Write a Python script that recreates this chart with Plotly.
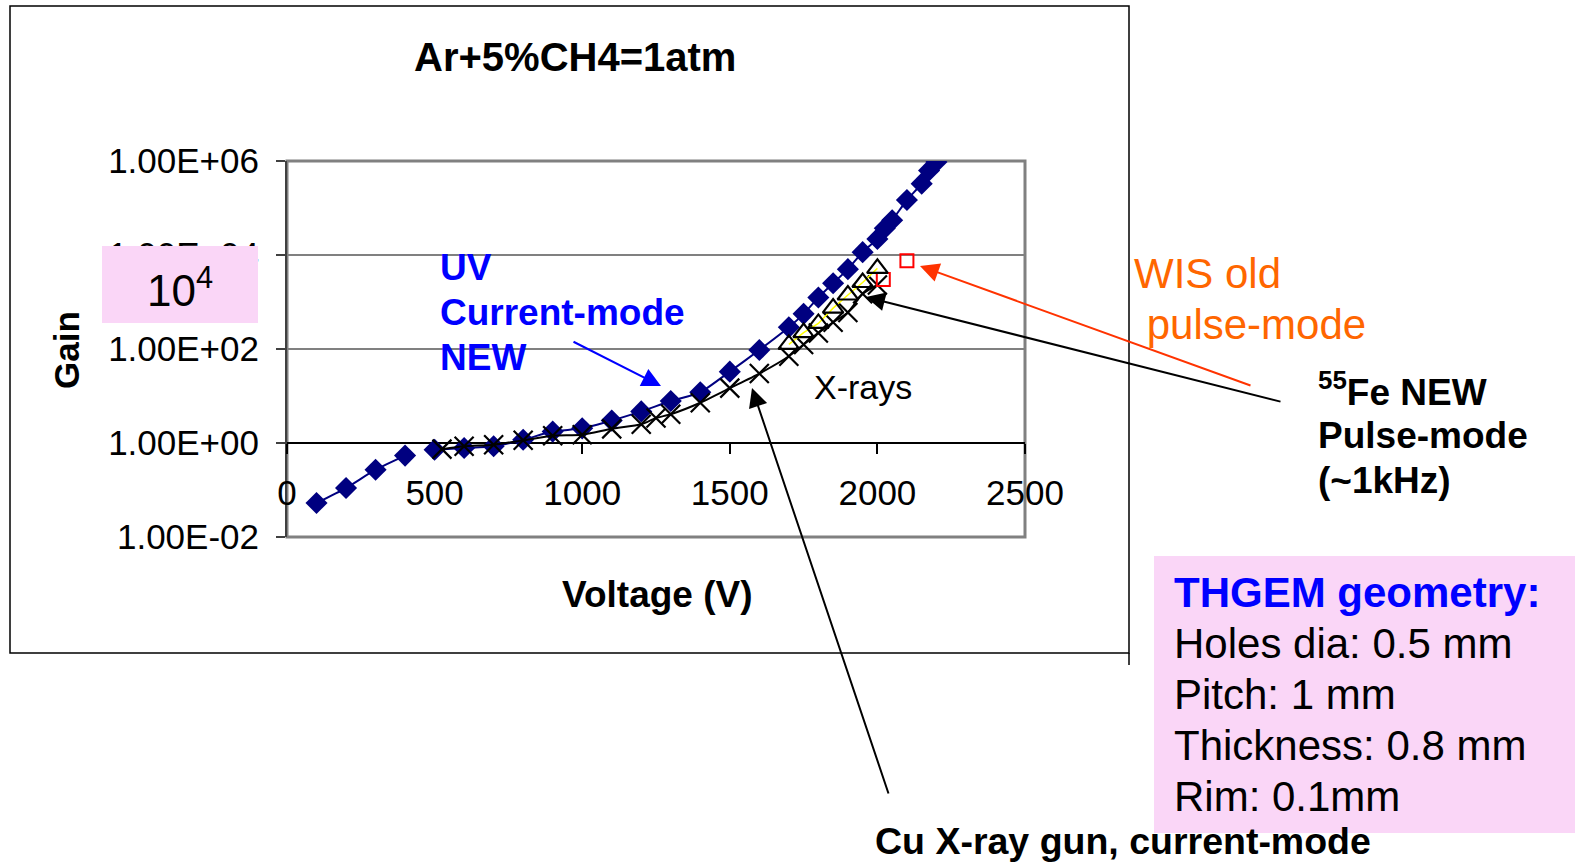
import plotly.graph_objects as go

# ---------------- data ----------------
uv_low_voltage = [100, 200, 300, 400]
uv_low_gain = [0.053, 0.11, 0.27, 0.54]

uv_voltage = [500, 600, 700, 800, 900, 1000, 1100, 1200, 1300, 1400, 1500, 1600,
              1700, 1750, 1800, 1850, 1900, 1950, 2000, 2025, 2050, 2100, 2150, 2175, 2200]
uv_gain = [0.72, 0.78, 0.85, 1.17, 1.75, 2.05, 3.0, 4.7, 7.8, 12, 33, 95,
           290, 560, 1250, 2500, 5000, 11500, 22000, 37000, 55000, 148000, 330000, 630000, 950000]

xray_voltage = [525, 600, 700, 800, 900, 1000, 1100, 1200, 1250, 1300, 1400, 1500,
                1600, 1700, 1750, 1800, 1850, 1900, 1950, 2000]
xray_gain = [0.74, 0.85, 0.92, 1.14, 1.43, 1.5, 2.0, 2.5, 3.4, 4.1, 7.2, 14.7,
             30, 70, 125, 220, 370, 600, 1500, 2300]

fe55_voltage = [1700, 1750, 1800, 1850, 1900, 1950, 2000]
fe55_gain = [125, 223, 350, 740, 1410, 2600, 5200]

wis_voltage = [2020, 2100]
wis_gain = [3000, 7500]

x_ticks = [0, 500, 1000, 1500, 2000, 2500]
y_ticks = [0.01, 1, 100, 1e4, 1e6]
y_ticktext = ["1.00E-02", "1.00E+00", "1.00E+02", "1.00E+04", "1.00E+06"]

# ---------------- layout geometry ----------------
W, H = 1575, 864
L, R, T, B = 287, 1025, 161, 537
PW, PH = R - L, B - T
FONT = "Arial, Liberation Sans, sans-serif"


def X(px):
    return (px - L) / PW


def Y(py):
    return (B - py) / PH


NAVY = "#000080"

fig = go.Figure()

fig.add_trace(go.Scatter(x=uv_low_voltage, y=uv_low_gain, mode="lines+markers",
                         line=dict(color=NAVY, width=2, shape="spline", smoothing=0.6),
                         marker=dict(symbol="diamond", size=17, color=NAVY),
                         showlegend=False))
fig.add_trace(go.Scatter(x=uv_voltage, y=uv_gain, mode="lines+markers",
                         line=dict(color=NAVY, width=2, shape="spline", smoothing=0.6),
                         marker=dict(symbol="diamond", size=17, color=NAVY),
                         showlegend=False))
fig.add_trace(go.Scatter(x=xray_voltage, y=xray_gain, mode="lines+markers",
                         line=dict(color="black", width=2, shape="spline", smoothing=0.6),
                         marker=dict(symbol="x-thin-open", size=19,
                                     line=dict(color="black", width=2.2)),
                         showlegend=False))
fig.add_trace(go.Scatter(x=wis_voltage, y=wis_gain, mode="markers",
                         marker=dict(symbol="square-open", size=13,
                                     line=dict(color="#FF0000", width=2), color="#FF0000"),
                         showlegend=False))
fig.add_trace(go.Scatter(x=fe55_voltage, y=fe55_gain, mode="lines+markers",
                         line=dict(color="#FFFF00", width=1.5),
                         marker=dict(symbol="triangle-up-open", size=18, color="black",
                                     line=dict(color="black", width=2.2)),
                         showlegend=False))

shapes = []
# white box behind the UV label (hides the gridlines)
shapes.append(dict(type="rect", xref="paper", yref="paper", layer="between",
                   x0=X(420), x1=X(703), y0=Y(368), y1=Y(240),
                   fillcolor="white", line=dict(width=0)))
# plot area frame (grey)
shapes.append(dict(type="rect", xref="paper", yref="paper", layer="between",
                   x0=0, x1=1, y0=0, y1=1, line=dict(color="#808080", width=3)))
# outer chart frame
shapes.append(dict(type="rect", xref="paper", yref="paper", layer="above",
                   x0=X(10), x1=X(1129), y0=Y(653), y1=Y(6),
                   line=dict(color="black", width=1.5)))
shapes.append(dict(type="line", xref="paper", yref="paper", layer="above",
                   x0=X(1129), x1=X(1129), y0=Y(653), y1=Y(665),
                   line=dict(color="black", width=1.5)))
# pink "10^4" box
shapes.append(dict(type="rect", xref="paper", yref="paper", layer="above",
                   x0=X(102), x1=X(258), y0=Y(323), y1=Y(246),
                   fillcolor="#FAD6F7", line=dict(width=0)))
# pink THGEM box
shapes.append(dict(type="rect", xref="paper", yref="paper", layer="above",
                   x0=X(1154), x1=X(1575), y0=Y(833), y1=Y(556),
                   fillcolor="#FAD6F7", line=dict(width=0)))

annotations = []


def text(px, py, s, size, color="black", bold=False, xanchor="left", angle=0):
    if bold:
        s = "<b>" + s + "</b>"
    annotations.append(dict(x=X(px), y=Y(py), xref="paper", yref="paper", text=s,
                            showarrow=False, xanchor=xanchor, yanchor="middle",
                            textangle=angle,
                            font=dict(family=FONT, size=size, color=color)))


def arrow(tail, tip, color):
    annotations.append(dict(x=X(tip[0]), y=Y(tip[1]), xref="paper", yref="paper",
                            ax=tail[0] - tip[0], ay=tail[1] - tip[1],
                            axref="pixel", ayref="pixel", text="", showarrow=True,
                            arrowhead=2, arrowsize=1.9, arrowwidth=2, arrowcolor=color,
                            standoff=0, startstandoff=0))


text(575, 57, "Ar+5%CH4=1atm", 40, bold=True, xanchor="center")
text(66, 350, "Gain", 35, bold=True, xanchor="center", angle=-90)
text(657, 594, "Voltage (V)", 37, bold=True, xanchor="center")

text(438, 267, "UV", 37, color="#0000FF", bold=True)
text(438, 312, "Current-mode", 37, color="#0000FF", bold=True)
text(438, 357, "NEW", 37, color="#0000FF", bold=True)
text(863, 387, "X-rays", 34, xanchor="center")

text(1132, 273, "WIS old", 42, color="#FF6600")
text(1133, 324, " pulse-mode", 42, color="#FF6600")

text(1316, 389, "<sup>55</sup>Fe NEW", 37, bold=True)
text(1316, 435, "Pulse-mode", 37, bold=True)
text(1316, 480, "(~1kHz)", 37, bold=True)

text(180, 287, "10<sup>4</sup>", 44, xanchor="center")

text(1172, 592, "THGEM geometry:", 42, color="#0000FF", bold=True)
text(1172, 643, "Holes dia: 0.5 mm", 42)
text(1172, 694, "Pitch: 1 mm", 42)
text(1172, 745, "Thickness: 0.8 mm", 42)
text(1172, 796, "Rim: 0.1mm", 42)

text(873, 841, "Cu X-ray gun, current-mode", 37.5, bold=True)

arrow((572, 341), (661, 386), "#0000FF")
arrow((1252, 386), (920, 266), "#FF3300")
arrow((1282, 402), (866, 297), "black")
arrow((889, 795), (752, 388), "black")

fig.update_layout(
    width=W, height=H,
    margin=dict(l=L, r=W - R, t=T, b=H - B, autoexpand=False),
    paper_bgcolor="white", plot_bgcolor="white",
    font=dict(family=FONT, color="black"),
    xaxis=dict(range=[0, 2500], tickvals=x_ticks, showgrid=False, zeroline=False,
               anchor="free", position=0.25, showline=True, linecolor="black", linewidth=1.5,
               ticks="outside", ticklen=10, tickcolor="black", tickwidth=1.5,
               ticklabelstandoff=9, layer="below traces",
               tickfont=dict(family=FONT, size=35, color="black")),
    yaxis=dict(type="log", range=[-2, 6], tickvals=y_ticks, ticktext=y_ticktext,
               showgrid=True, gridcolor="#808080", gridwidth=2, zeroline=False,
               showline=True, linecolor="#404040", linewidth=2,
               ticks="outside", ticklen=9, tickcolor="#404040", tickwidth=2,
               ticklabelstandoff=10, layer="below traces",
               tickfont=dict(family=FONT, size=35, color="black")),
    shapes=shapes,
    annotations=annotations,
)

fig.write_html("out.html")
